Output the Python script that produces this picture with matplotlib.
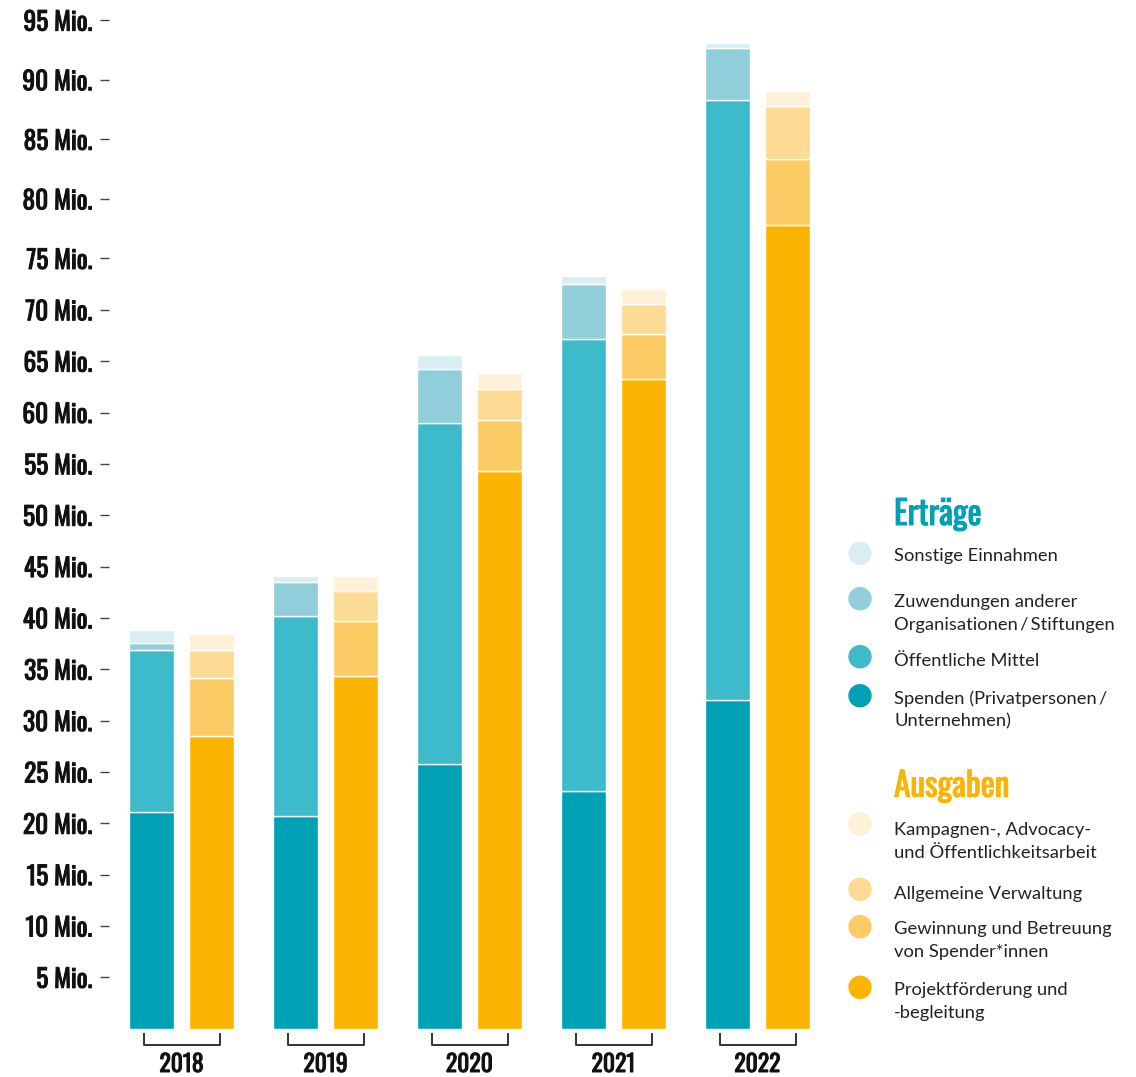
import matplotlib
matplotlib.use("Agg")
import matplotlib.pyplot as plt
import matplotlib.transforms as mtransforms
import matplotlib.patheffects as pe
from matplotlib.patches import Circle

# values in Mio. EUR
years = ["2018", "2019", "2020", "2021", "2022"]

spenden = [21.1, 20.7, 25.8, 23.1, 32.0]
oeffentliche_mittel = [15.8, 19.5, 33.2, 44.1, 58.4]
zuwendungen = [0.7, 3.3, 5.2, 5.3, 5.1]
sonstige = [1.2, 0.6, 1.4, 0.8, 0.5]

projekt = [28.5, 34.3, 54.3, 63.3, 78.3]
gewinnung = [5.6, 5.4, 5.0, 4.3, 6.4]
verwaltung = [2.8, 2.9, 3.0, 3.0, 5.1]
kampagnen = [1.5, 1.5, 1.5, 1.4, 1.5]

tick_values = [5, 10, 15, 20, 25, 30, 35, 40, 45, 50, 55, 60, 65, 70, 75, 80, 85, 90, 95]
# the upper labels sit further apart in the original than the bar scale
tick_pos = [5, 10, 15, 20, 25, 30, 35, 40, 45, 50, 55, 60, 65, 70, 75, 80.8, 86.6, 92.4, 98.2]
tick_labels = [f"{v} Mio." for v in tick_values]

ertraege_labels = ["Sonstige Einnahmen",
                   "Zuwendungen anderer\nOrganisationen\u2009/\u2009Stiftungen",
                   "Öffentliche Mittel",
                   "Spenden (Privatpersonen\u2009/\nUnternehmen)"]
ausgaben_labels = ["Kampagnen-, Advocacy-\nund Öffentlichkeitsarbeit",
                   "Allgemeine Verwaltung",
                   "Gewinnung und Betreuung\nvon Spender*innen",
                   "Projektförderung und\n-begleitung"]

teal = ["#00a0b5", "#3ebbca", "#90ced9", "#d8eef2"]
gold = ["#fbb400", "#fdcb63", "#fddb94", "#fff0d8"]

condensed = ["Oswald", "DejaVu Sans"]
W, H = 1136, 1077


def bolder(color):
    return [pe.withStroke(linewidth=0.7, foreground=color)]


fig = plt.figure(figsize=(W / 100, H / 100), dpi=100)
ax = fig.add_axes([109 / W, (H - 1028.7) / H, 721 / W, 1027 / H])

x = list(range(len(years)))
bw = 45 / 144
off = 30 / 144

bottom = [0] * len(years)
for vals, col in zip([spenden, oeffentliche_mittel, zuwendungen, sonstige], teal):
    ax.bar([i - off for i in x], vals, bw, bottom=bottom, color=col,
           edgecolor="white", linewidth=1.0)
    bottom = [b + v for b, v in zip(bottom, vals)]

bottom = [0] * len(years)
for vals, col in zip([projekt, gewinnung, verwaltung, kampagnen], gold):
    ax.bar([i + off for i in x], vals, bw, bottom=bottom, color=col,
           edgecolor="white", linewidth=1.0)
    bottom = [b + v for b, v in zip(bottom, vals)]

ax.set_xlim(-72.5 / 144, 648.5 / 144)
ax.set_ylim(0, 100)
for s in ax.spines.values():
    s.set_visible(False)
ax.set_xticks([])
ax.set_yticks(tick_pos)
ax.set_yticklabels(tick_labels, family=condensed, fontsize=18.3, color="#111111")
for lbl in ax.get_yticklabels():
    lbl.set_path_effects(bolder("#111111"))
ax.tick_params(axis="y", length=6.5, width=1, color="#444444", pad=5.5)

# year brackets below the groups
trans = mtransforms.blended_transform_factory(ax.transData, fig.transFigure)
y_top = (H - 1034) / H
y_bot = (H - 1044.5) / H
half = 38 / 144
for i, yr in enumerate(years):
    ax.plot([i - half, i - half, i + half, i + half], [y_top, y_bot, y_bot, y_top],
            transform=trans, color="#222222", lw=1.3, clip_on=False)
    t = ax.text(i, (H - 1064.5) / H, yr, transform=trans, ha="center", va="center",
                family=condensed, fontsize=17, color="#111111")
    t.set_path_effects(bolder("#111111"))


# legend
def heading(text, y, color):
    t = fig.text(894 / W, (H - y) / H, text, ha="left", va="baseline", family=condensed,
                 fontsize=24, color=color)
    t.set_path_effects(bolder(color))


def entry(text, y_circle, y_text, color):
    fig.add_artist(Circle((860 / 100, (H - y_circle) / 100), 0.11, color=color,
                          transform=fig.dpi_scale_trans))
    fig.text(894 / W, (H - y_text) / H, text, ha="left", va="center", family="Lato",
             fontsize=13.2, color="#222222", linespacing=1.5)


heading("Erträge", 525, teal[0])
entry(ertraege_labels[0], 553.3, 556, teal[3])
entry(ertraege_labels[1], 598.7, 613.3, teal[2])
entry(ertraege_labels[2], 656.7, 661, teal[1])
entry(ertraege_labels[3], 695.7, 709.7, teal[0])

heading("Ausgaben", 796.7, gold[0])
entry(ausgaben_labels[0], 824, 841.5, gold[3])
entry(ausgaben_labels[1], 889.3, 893.7, gold[2])
entry(ausgaben_labels[2], 926.7, 940.3, gold[1])
entry(ausgaben_labels[3], 987.3, 1001.5, gold[0])

fig.savefig("out.png", dpi=100)
